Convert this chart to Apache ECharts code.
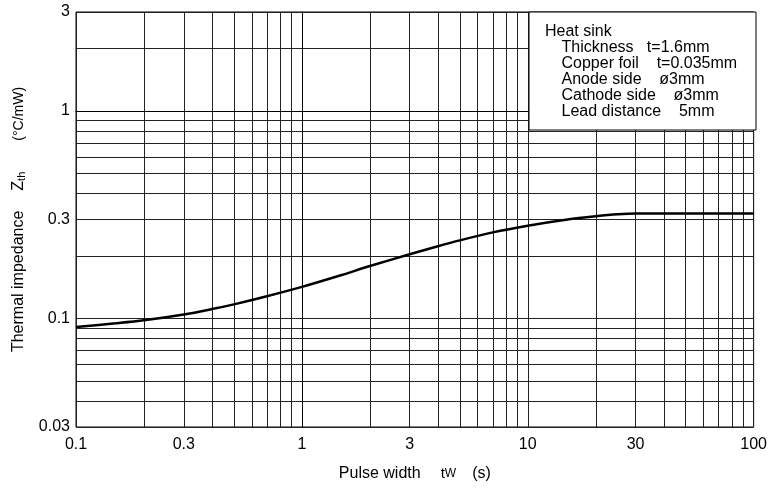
<!DOCTYPE html>
<html><head><meta charset="utf-8">
<script src="https://cdn.jsdelivr.net/npm/echarts@6/dist/echarts.min.js"></script>
<style>html,body{margin:0;padding:0;background:#fff}#c{width:770px;height:489px}</style>
</head><body><div id="c"></div>
<script>
// Pulse width tw (s)
const pulseWidth = [0.1, 0.15, 0.2, 0.3, 0.4, 0.5, 0.7, 1, 1.5, 2, 3, 4, 5, 7, 10, 15, 20, 25, 30, 50, 100];
// Thermal impedance Zth (°C/mW)
const thermalZ   = [0.091, 0.0948, 0.098, 0.1045, 0.111, 0.117, 0.128, 0.142, 0.162, 0.179, 0.204, 0.223, 0.238, 0.260, 0.280, 0.300, 0.311, 0.318, 0.321, 0.321, 0.321];
const xTickLabels = [0.1, 0.3, 1, 3, 10, 30, 100];
const yTickLabels = [0.03, 0.1, 0.3, 1, 3];
const xGridValues = [0.1,0.2,0.3,0.4,0.5,0.6,0.7,0.8,0.9,1,2,3,4,5,6,7,8,9,10,20,30,40,50,60,70,80,90,100];
const yGridValues = [0.03,0.04,0.05,0.06,0.07,0.08,0.09,0.1,0.2,0.3,0.4,0.5,0.6,0.7,0.8,0.9,1,2,3];
const noteTitle = 'Heat sink';
const noteLines = ['Thickness   t=1.6mm', 'Copper foil    t=0.035mm', 'Anode side    \u00f83mm', 'Cathode side    \u00f83mm', 'Lead distance    5mm'];

const L = Math.log10;
function fmt(list) {
  return function (v) {
    for (const t of list) if (Math.abs(L(t) - v) < 1e-6) return String(t);
    return '';
  };
}
const FONT = 'Liberation Sans, Arial, sans-serif';
const chart = echarts.init(document.getElementById('c'), null, {renderer: 'canvas'});
chart.setOption({
  animation: false,
  backgroundColor: '#fff',
  grid: {left: 76, right: 14, top: 12, bottom: 62, show: true, borderColor: '#000', borderWidth: 1},
  xAxis: {
    type: 'value', min: L(xTickLabels[0]), max: L(xTickLabels[xTickLabels.length - 1]),
    axisLine: {show: true, lineStyle: {color: '#000', width: 1}},
    axisTick: {show: false, customValues: xGridValues.map(L)},
    splitLine: {show: true, lineStyle: {color: '#222', width: 1}},
    axisLabel: {customValues: xTickLabels.map(L), formatter: fmt(xTickLabels), color: '#000', fontSize: 16, fontFamily: FONT, margin: 10},
    name: '{n|Pulse width}{t|t}{w|W}{u|(s)}',
    nameLocation: 'middle', nameGap: 39,
    nameTextStyle: {rich: {
      n: {fontSize: 16, fontFamily: FONT, color: '#000'},
      t: {fontSize: 15, fontFamily: FONT, color: '#000', padding: [0, 0, 0, 20]},
      w: {fontSize: 12, fontFamily: FONT, color: '#000'},
      u: {fontSize: 16, fontFamily: FONT, color: '#000', padding: [0, 0, 0, 16]}
    }}
  },
  yAxis: {
    type: 'value', min: L(yTickLabels[0]), max: L(yTickLabels[yTickLabels.length - 1]),
    axisLine: {show: true, lineStyle: {color: '#000', width: 1}},
    axisTick: {show: false, customValues: yGridValues.map(L)},
    splitLine: {show: true, lineStyle: {color: '#222', width: 1}},
    axisLabel: {customValues: yTickLabels.map(L), formatter: fmt(yTickLabels), color: '#000', fontSize: 16, fontFamily: FONT, margin: 6},
    name: '{n|Thermal impedance}{z|Z}{s|th}{u|(\u00b0C/mW)}',
    nameLocation: 'middle', nameGap: 49,
    nameTextStyle: {rich: {
      n: {fontSize: 16, fontFamily: FONT, color: '#000'},
      z: {fontSize: 16, fontFamily: FONT, color: '#000', padding: [0, 0, 0, 20]},
      s: {fontSize: 11, fontFamily: FONT, color: '#000', verticalAlign: 'bottom', padding: [5, 0, 0, 0]},
      u: {fontSize: 14, fontFamily: FONT, color: '#000', padding: [0, 0, 0, 31]}
    }}
  },
  series: [{
    type: 'line', smooth: 0.3, showSymbol: false,
    data: pulseWidth.map((t, i) => [L(t), L(thermalZ[i])]),
    lineStyle: {color: '#000', width: 2.5}, z: 5
  }],
  graphic: [
    {type: 'rect', z: 100, shape: {x: 529, y: 12, width: 227, height: 118}, style: {fill: '#fff', stroke: '#000', lineWidth: 1}},
    {type: 'text', z: 101, x: 545, y: 24, style: {text: noteTitle, font: '16px ' + FONT, fill: '#000', lineHeight: 16}},
    {type: 'text', z: 101, x: 561.5, y: 40, style: {text: noteLines.join('\n'), font: '16px ' + FONT, fill: '#000', lineHeight: 15.8}}
  ]
});
</script></body></html>
